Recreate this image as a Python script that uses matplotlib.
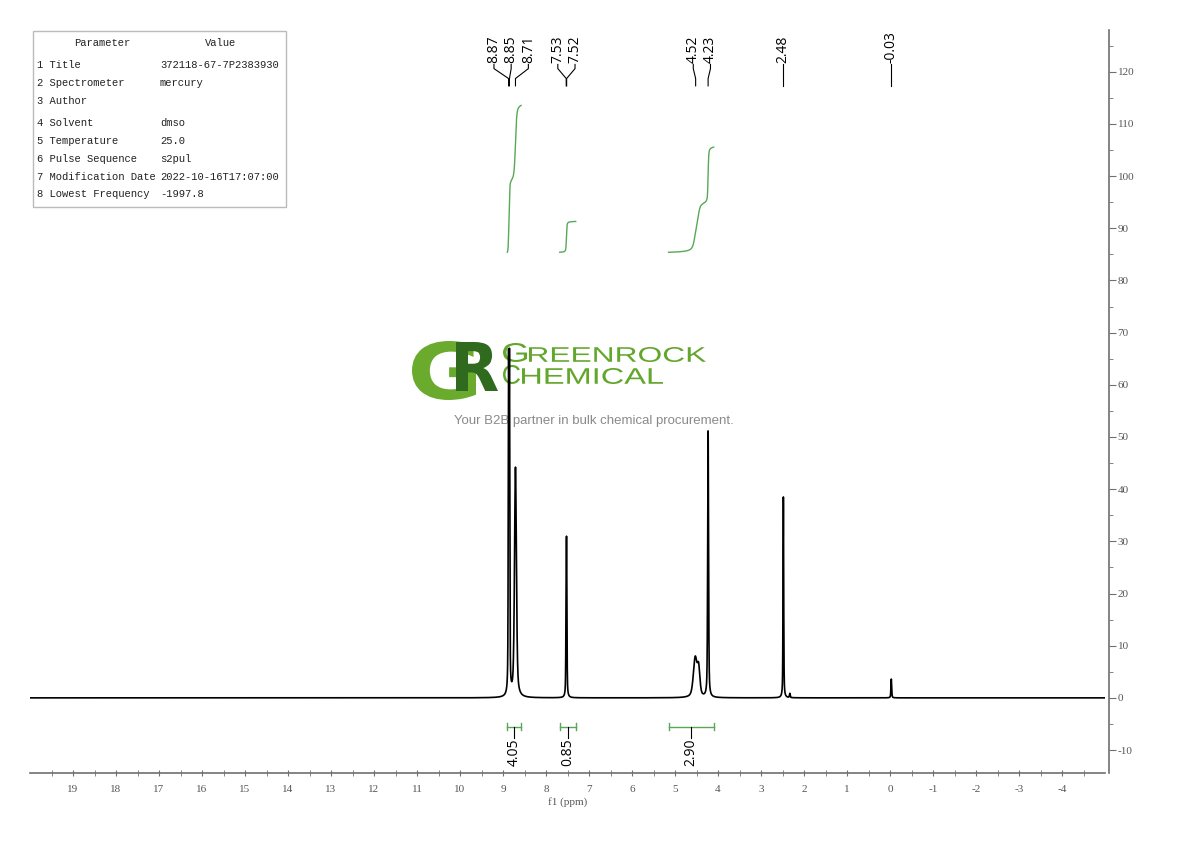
import numpy as np
import matplotlib
matplotlib.use("Agg")
import matplotlib.pyplot as plt
from matplotlib.ticker import FixedLocator, MultipleLocator
from matplotlib.textpath import TextPath
from matplotlib.font_manager import FontProperties
from matplotlib.patches import PathPatch, Rectangle
from matplotlib.path import Path

plt.rcParams['axes.unicode_minus'] = False

# peak components of the 1H spectrum (ppm, height, half width)
peak_ppm = [8.87, 8.85, 8.71, 7.53, 7.52, 4.53, 4.45, 4.23, 2.48, 2.33, -0.03]
peak_height = [60, 60, 44, 17, 22, 7.5, 5.0, 51, 38.5, 0.8, 3.6]
peak_hw = [0.009, 0.009, 0.026, 0.009, 0.009, 0.05, 0.035, 0.012, 0.009, 0.01, 0.01]

# picked peak labels
peak_labels = ["8.87", "8.85", "8.71", "7.53", "7.52", "4.52", "4.23", "2.48", "-0.03"]

# integrals
int_from = [8.90, 7.68, 5.15]
int_to = [8.58, 7.31, 4.10]
int_values = [4.05, 0.85, 2.90]

# acquisition parameters
param_names = ["1 Title", "2 Spectrometer", "3 Author", "4 Solvent", "5 Temperature",
               "6 Pulse Sequence", "7 Modification Date", "8 Lowest Frequency"]
param_values = ["372118-67-7P2383930", "mercury", "", "dmso", "25.0", "s2pul",
                "2022-10-16T17:07:00", "-1997.8"]

W, H = 1190, 841
ppm = np.linspace(20, -5, 50001)


def pvoigt(x, c, h, hw, eta=0.5):
    d = ((x - c) / hw) ** 2
    return h * (eta / (1 + d) + (1 - eta) * np.exp(-np.log(2) * d))


spec = np.zeros_like(ppm)
for c, h, hw in zip(peak_ppm, peak_height, peak_hw):
    spec += pvoigt(ppm, c, h, hw)

fig = plt.figure(figsize=(W / 100, H / 100), dpi=100)
ax = fig.add_axes([30 / W, 1 - 773 / H, 1075 / W, 743 / H])
ax.patch.set_visible(False)

ax.plot(ppm, spec, color='black', lw=1.2, zorder=3)
ax.set_xlim(20, -5)
ax.set_ylim(-14.4, 128)

axis_grey = '#707070'
for s in ['top', 'left']:
    ax.spines[s].set_visible(False)
ax.spines['bottom'].set_color(axis_grey)
ax.spines['right'].set_color(axis_grey)
ax.spines['right'].set_position(('outward', 3))
ax.spines['bottom'].set_linewidth(1.2)
ax.spines['right'].set_linewidth(1.2)

ax.yaxis.tick_right()
ax.yaxis.set_major_locator(MultipleLocator(10))
ax.yaxis.set_minor_locator(MultipleLocator(5))
ax.xaxis.set_major_locator(FixedLocator(np.arange(-4, 20)))
ax.xaxis.set_minor_locator(FixedLocator(np.arange(-4.5, 20, 1.0)))
ax.tick_params(axis='both', which='both', colors=axis_grey, labelcolor='#555555')
ax.tick_params(axis='x', which='both', direction='inout', length=5, pad=6)
ax.tick_params(axis='y', which='major', direction='out', length=5, pad=1)
ax.tick_params(axis='y', which='minor', direction='out', length=3)
for lab in ax.get_xticklabels() + ax.get_yticklabels():
    lab.set_fontfamily('Liberation Serif')
    lab.set_fontsize(8)
ax.set_xlabel("f1 (ppm)", fontfamily='Liberation Serif', fontsize=8, color='#555555', labelpad=2)

# integral curves and bars
green = '#58a858'
int_base = 85.4
int_scale = 6.95
for a, b, v in zip(int_from, int_to, int_values):
    m = (ppm <= a) & (ppm >= b)
    cum = np.cumsum(spec[m])
    cum = int_base + cum / cum[-1] * v * int_scale
    ax.plot(ppm[m], cum, color=green, lw=1.0, zorder=2)
    ybar = -5.5
    ax.plot([a, b], [ybar, ybar], color=green, lw=1.0)
    ax.plot([a, a], [ybar - 0.7, ybar + 0.7], color=green, lw=1.0)
    ax.plot([b, b], [ybar - 0.7, ybar + 0.7], color=green, lw=1.0)
    mid = (a + b) / 2
    ax.plot([mid, mid], [ybar, -7.6], color='black', lw=0.8)
    ax.text(mid, -7.8, "%.2f" % v, rotation=90, ha='center', va='top',
            fontfamily='Open Sans', fontsize=10)

# peak labels, spread in groups
vals = [float(s) for s in peak_labels]
gap = 0.4
groups = [[0]]
for i in range(1, len(vals)):
    if vals[groups[-1][-1]] - vals[i] < gap:
        groups[-1].append(i)
    else:
        groups.append([i])
label_x = [0.0] * len(vals)
for g in groups:
    cen = np.mean([vals[i] for i in g])
    n = len(g)
    for k, i in enumerate(g):
        label_x[i] = cen + (n - 1) * gap / 2 - k * gap

y_top, y_bend1, y_bend2, y_end = 121.4, 120.6, 118.7, 117.3
for s, v, lx in zip(peak_labels, vals, label_x):
    ax.plot([lx, lx, v, v], [y_top, y_bend1, y_bend2, y_end], color='black', lw=0.8)
    ax.text(lx, y_top + 0.3, s, rotation=90, ha='center', va='bottom',
            fontfamily='Open Sans', fontsize=10)

# parameter table
fig.patches.append(Rectangle((33 / W, 1 - 207 / H), 253 / W, 176 / H, transform=fig.transFigure,
                             fill=False, ec='#bbbbbb', lw=1.0))
mono = dict(family='Liberation Mono', size=7.6, color='#222222')
fig.text(102 / W, 1 - 43 / H, "Parameter", ha='center', va='center', **mono)
fig.text(221 / W, 1 - 43 / H, "Value", ha='center', va='center', **mono)
row_y = [65, 83, 101, 123, 141, 159, 177, 194]
for ry, n, v in zip(row_y, param_names, param_values):
    fig.text(37 / W, 1 - ry / H, n, ha='left', va='center', **mono)
    fig.text(160 / W, 1 - ry / H, v, ha='left', va='center', **mono)


# watermark logo
def fit_text(s, box, color, weight='bold', family='Liberation Sans'):
    tp = TextPath((0, 0), s, size=20, prop=FontProperties(family=family, weight=weight))
    ext = tp.get_extents()
    x0, y0, x1, y1 = box
    v = tp.vertices.copy()
    px = x0 + (v[:, 0] - ext.x0) / ext.width * (x1 - x0)
    py = y1 - (v[:, 1] - ext.y0) / ext.height * (y1 - y0)
    fv = np.column_stack([px / W, 1 - py / H])
    patch = PathPatch(Path(fv, tp.codes), transform=fig.transFigure, fc=color, ec='none',
                      zorder=1, clip_on=False)
    ax.add_patch(patch)


fit_text("G", (412, 341, 476, 400), '#6aab2e', family='DejaVu Sans')
fit_text("R", (456, 342, 498, 391), '#2f6a1e', family='DejaVu Sans')
fit_text("G", (503, 343, 527, 362), '#63a62c', weight='normal')
fit_text("REENROCK", (529, 347, 706, 362), '#63a62c', weight='normal')
fit_text("C", (503, 365, 520, 384), '#63a62c', weight='normal')
fit_text("HEMICAL", (522, 368, 663, 384), '#63a62c', weight='normal')
ax.text(594 / W, 1 - 421 / H, "Your B2B partner in bulk chemical procurement.",
        transform=fig.transFigure, ha='center', va='center', color='#8a8a8a',
        fontfamily='Liberation Sans', fontsize=9.5, zorder=1)

fig.savefig("out.png", dpi=100)
